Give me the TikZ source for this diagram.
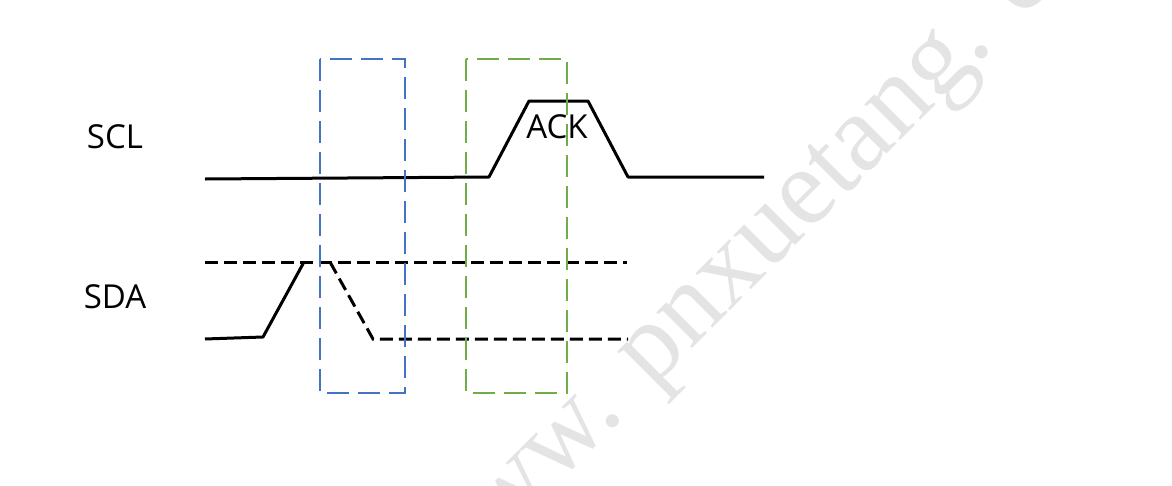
\documentclass[tikz,border=0pt]{standalone}
\usepackage{fontspec}
\setmainfont{Liberation Serif}
\newfontfamily\labelfont{Open Sans}
\definecolor{boxblue}{HTML}{4472C4}
\definecolor{boxgreen}{HTML}{70AD47}
\definecolor{wmgray}{HTML}{E4E4E4}
\tikzset{
  sigline/.style={line width=3pt, line join=round, black},
  sigdash/.style={line width=3pt, black, dash pattern=on 13pt off 6pt},
  winbox/.style={line width=2pt, dash pattern=on 22pt off 9pt},
  siglabel/.style={font=\labelfont\fontsize{33}{40}\selectfont, inner sep=0pt, anchor=center},
  wmtext/.style={font=\fontsize{110}{110}\selectfont, text=wmgray, inner sep=0pt, rotate=45, anchor=base west}
}
\begin{document}
\begin{tikzpicture}[x=1pt,y=-1pt]
\useasboundingbox (0,0) rectangle (1172,485);
\begin{scope}
\clip (0,0) rectangle (1172,485);
\node[wmtext] (wmark) at (443,598) {www. pnxuetang. c};
\end{scope}
% labels
\node[siglabel] (scl) at (115,137) {SCL};
\node[siglabel] (sda) at (115,297) {SDA};
\node[siglabel] (ack) at (557,127) {ACK};
% SCL waveform
\coordinate (c0) at (205,179);
\coordinate (c1) at (489,177);
\coordinate (c2) at (529,101);
\coordinate (c3) at (588,101);
\coordinate (c4) at (628,177);
\coordinate (c5) at (764,177);
\draw[sigline] (c0) -- (c1) -- (c2) -- (c3) -- (c4) -- (c5);
% SDA waveform
\coordinate (d0) at (205,339);
\coordinate (d1) at (263,337);
\coordinate (d2) at (304,262);
\coordinate (h0) at (205,262);
\coordinate (h1) at (627,262);
\coordinate (f0) at (330,262);
\coordinate (f1) at (373,339);
\coordinate (l1) at (628,339);
\draw[sigline] (d0) -- (d1) -- (d2);
\draw[sigdash] (h0) -- (h1);
\draw[sigdash] (f0) -- (f1) -- (l1);
% windows
\draw[winbox, boxblue] (320,59) rectangle (405,393);
\draw[winbox, boxgreen] (466,59) rectangle (567,393);
\end{tikzpicture}
\end{document}
